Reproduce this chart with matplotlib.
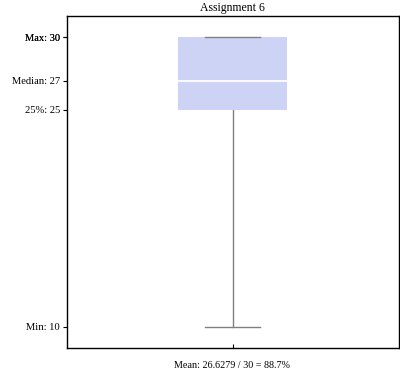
import matplotlib
matplotlib.use("Agg")
import matplotlib.pyplot as plt
from matplotlib.patches import Rectangle

plt.rcParams['font.family'] = ['Liberation Serif', 'DejaVu Serif']

title = "Assignment 6"
stat_names = ["Min", "25%", "Median", "75%", "Max"]
stat_values = [10, 25, 27, 30, 30]
mean_value = 26.6279
max_score = 30
mean_pct = 88.7

fig = plt.figure(figsize=(4.0, 3.7), dpi=100)
ax = fig.add_axes([66.5/400, 1 - 348/370, 332/400, 332/370])

vmin, q1, med, q3, vmax = stat_values
pos = 1.0
bw = 0.657
cw = bw / 2
gray = '#808080'
ax.add_patch(Rectangle((pos - bw/2, q1), bw, q3 - q1, facecolor='#ccd3f5', edgecolor='none', zorder=2))
ax.plot([pos - bw/2, pos + bw/2], [med, med], color='white', lw=1.3, zorder=3)
ax.plot([pos, pos], [vmin, q1], color=gray, lw=1.0, zorder=1)
ax.plot([pos, pos], [q3, vmax], color=gray, lw=1.0, zorder=1)
ax.plot([pos - cw/2, pos + cw/2], [vmin, vmin], color=gray, lw=1.0, zorder=3)
ax.plot([pos - cw/2, pos + cw/2], [vmax, vmax], color=gray, lw=1.0, zorder=3)

rng = vmax - vmin
ax.set_ylim(vmin - 0.0725 * rng, vmax + 0.0725 * rng)
ax.set_xlim(0, 2)

ax.set_yticks(stat_values)
ax.set_yticklabels([f"{n}: {v}" for n, v in zip(stat_names, stat_values)], fontsize=7.6)
ax.set_xticks([pos])
ax.set_xticklabels([f"Mean: {mean_value} / {max_score} = {mean_pct}%"], fontsize=7.3)
ax.tick_params(axis='y', direction='out', length=3, width=0.8, pad=1.5)
ax.tick_params(axis='x', direction='in', length=3, width=0.8, pad=9.5)
for s in ax.spines.values():
    s.set_linewidth(1.0)
ax.set_title(title, fontsize=8.5, pad=3.5)

fig.savefig("out.png", dpi=100)
